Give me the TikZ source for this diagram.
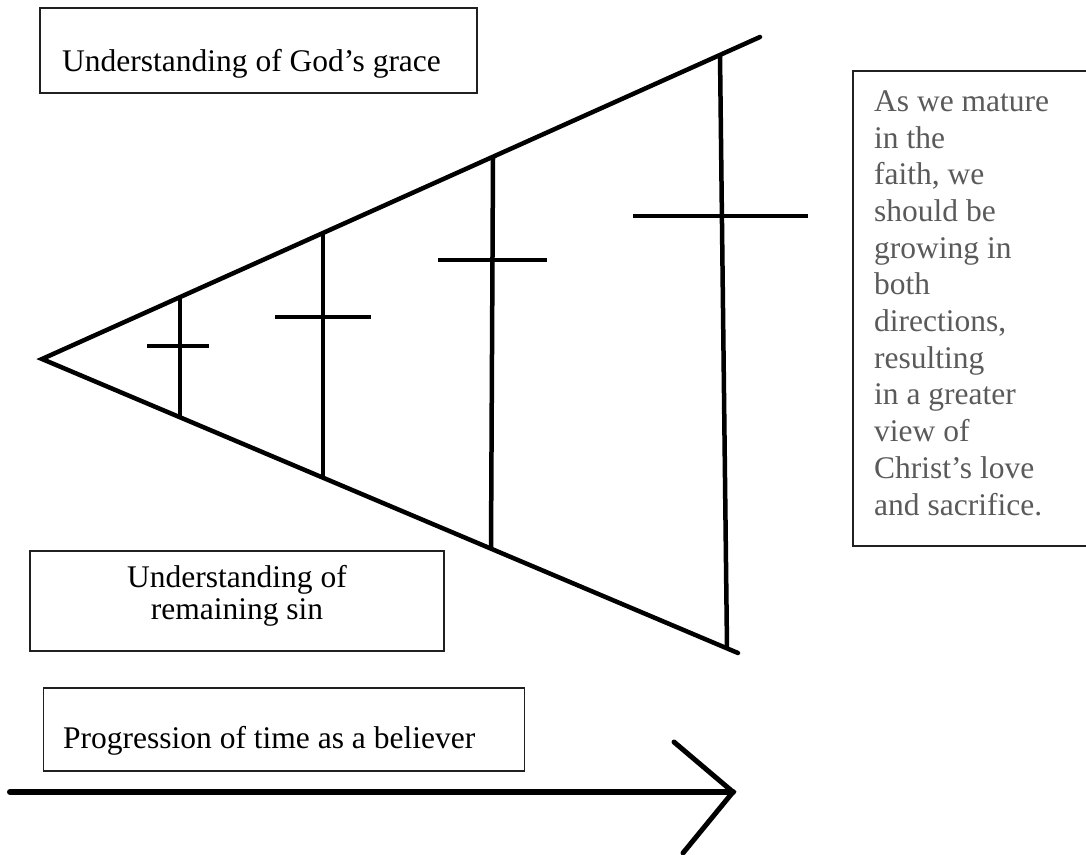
\documentclass[tikz,border=0pt]{standalone}
\usepackage{fontspec}
\setmainfont{Liberation Serif}
\definecolor{notegray}{HTML}{5A5A5A}
\definecolor{boxline}{HTML}{202020}
\tikzset{
  stroke/.style={line width=4.5pt, line cap=round, black},
  boxframe/.style={draw=boxline, line width=1.5pt, inner sep=0pt},
  label/.style={inner sep=0pt, font=\fontsize{31.5}{31.5}\selectfont},
}
\begin{document}
\begin{tikzpicture}[x=1pt,y=-1pt]
\useasboundingbox (0,0) rectangle (1086,854);
\clip (0,0) rectangle (1086,854);

% triangle
\coordinate (apex) at (42,359);
\coordinate (topend) at (760,37);
\coordinate (botend) at (738,653);
\draw[stroke] (topend) -- (apex) -- (botend);

% crosses
\coordinate (c1t) at (180,298); \coordinate (c1b) at (180,417);
\coordinate (c1l) at (147,346); \coordinate (c1r) at (209,346);
\coordinate (c2t) at (323,234); \coordinate (c2b) at (323,478);
\coordinate (c2l) at (275,317); \coordinate (c2r) at (371,317);
\coordinate (c3t) at (493,158); \coordinate (c3b) at (491,548);
\coordinate (c3l) at (438,260); \coordinate (c3r) at (547,260);
\coordinate (c4t) at (720,55);  \coordinate (c4b) at (727,648);
\coordinate (c4l) at (633,216); \coordinate (c4r) at (808,216);
\foreach \c in {c1,c2,c3,c4}{
  \draw[stroke, line cap=butt] (\c t) -- (\c b);
  \draw[stroke, line cap=butt] (\c l) -- (\c r);
}

% arrow
\coordinate (arrstart) at (10,792);
\coordinate (arrtip) at (733,792);
\coordinate (armup) at (674,742);
\coordinate (armdown) at (683,853);
\draw[stroke, line width=6pt] (arrstart) -- (arrtip);
\draw[stroke, line width=5pt, line join=miter] (armup) -- (arrtip) -- (armdown);

% box: God's grace
\node[boxframe, minimum width=437pt, minimum height=85pt] (gracebox) at (258.5,50.5) {};
\node[label, anchor=base west] (gracetext) at (62,71) {Understanding of God’s grace};

% box: remaining sin
\node[boxframe, minimum width=414pt, minimum height=100pt] (sinbox) at (237,601) {};
\node[label, anchor=base, align=center] (sintext) at (237,619) {Understanding of\\remaining sin};

% box: progression
\node[boxframe, minimum width=481pt, minimum height=83pt] (timebox) at (284,729.5) {};
\node[label, anchor=base west] (timetext) at (63,748) {Progression of time as a believer};

% box: note (right edge beyond the picture)
\coordinate (nbtr) at (1095,71);
\coordinate (nbtl) at (853,71);
\coordinate (nbbl) at (853,546);
\coordinate (nbbr) at (1095,546);
\draw[draw=boxline, line width=1.5pt] (nbtr) -- (nbtl) -- (nbbl) -- (nbbr);
\node[label, anchor=base west, align=left, text=notegray,
      font=\fontsize{31.5}{36.7}\selectfont] (notetext) at (874,515)
 {As we mature\\in the\\faith, we\\should be\\growing in\\both\\directions,\\resulting\\in a greater\\view of\\Christ’s love\\and sacrifice.};
\end{tikzpicture}
\end{document}
